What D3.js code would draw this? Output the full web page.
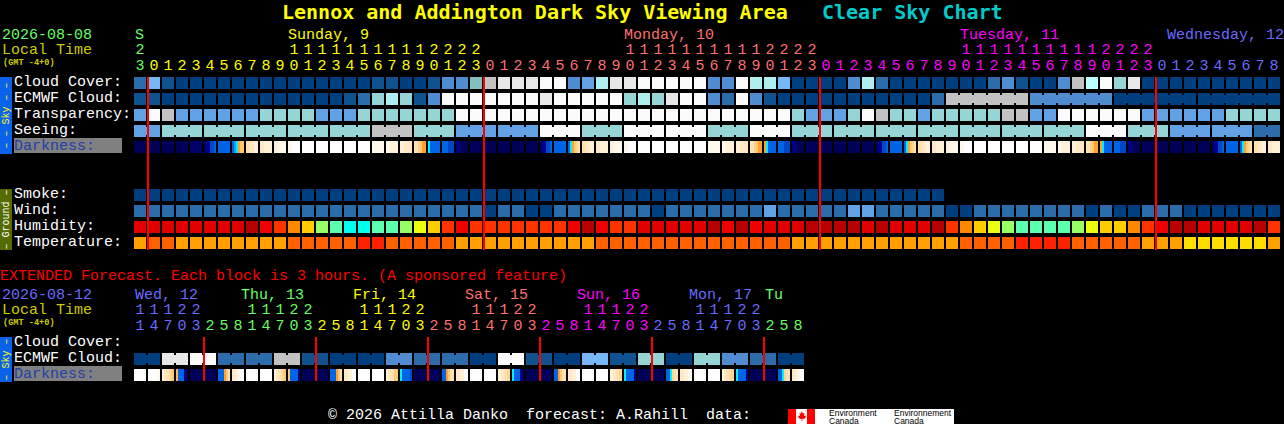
<!DOCTYPE html>
<html>
<head>
<meta charset="utf-8">
<style>
body { margin: 0; background: #000; overflow: hidden; }
svg { display: block; }
text { font-family: "Liberation Mono", monospace; font-size: 15px; fill: #fff; white-space: pre; }
.title { font-family: "DejaVu Sans Mono", monospace; font-size: 20px; font-weight: bold; }
.small { font-size: 8.6px; font-weight: bold; }
.side { font-size: 10px; }
.logo { font-family: "Liberation Sans", sans-serif; font-size: 8.5px; fill: #000; }
</style>
<script src="https://cdn.jsdelivr.net/npm/d3@7"></script>
</head>
<body>
<svg width="1284" height="424"></svg>
<script>
// **** Chart values ****

var hours = [23,0,1,2,3,4,5,6,7,8,9,10,11,12,13,14,15,16,17,18,19,20,21,22,23,
  0,1,2,3,4,5,6,7,8,9,10,11,12,13,14,15,16,17,18,19,20,21,22,23,
  0,1,2,3,4,5,6,7,8,9,10,11,12,13,14,15,16,17,18,19,20,21,22,23,
  0,1,2,3,4,5,6,7,8];

var extHours = [11,14,17,20,23, 2,5,8,11,14,17,20,23, 2,5,8,11,14,17,20,23,
  2,5,8,11,14,17,20,23, 2,5,8,11,14,17,20,23, 2,5,8,11,14,17,20,23, 2,5,8];

var dayNames = ["S", "Sunday, 9", "Monday, 10", "Tuesday, 11", "Wednesday, 12"];
var dayLabelCols = [0.07, 11, 35, 59, 73.79];
var extDayNames = ["Wed, 12", "Thu, 13", "Fri, 14", "Sat, 15", "Sun, 16", "Mon, 17", "Tu"];
var extDayLabelCols = [0.07, 7.64, 15.64, 23.64, 31.64, 39.64, 45.07];

var rowNames = ["Cloud Cover:", "ECMWF Cloud:", "Transparency:", "Seeing:", "Darkness:", "-", "--",
  "Smoke:", "Wind:", "Humidity:", "Temperature:"];
var extRowNames = ["Cloud Cover:", "ECMWF Cloud:", "Darkness:"];

// sky levels, 0 is the darkest blue and 10 is white
var cloudCover = [2,5,1,0,0,0,0,0,0,0,0,0,0,0,0,0,0,1,1,0,0,1,3,3,12,8,9,9,9,10,10,3,4,7,9,9,10,10,10,10,10,
  3,3,10,7,7,5,0,0,0,0,3,7,2,0,0,0,0,0,0,0,2,3,1,0,0,3,8,11,10,6,9,0,0,0,0,0,0,0,0,0,0];
var ecmwfCloud = [1,1,0,0,0,0,0,0,0,0,0,0,0,0,0,1,2,6,7,6,1,3,10,10,10,10,10,10,10,9,10,10,10,10,10,6,7,6,9,10,10,
  3,2,10,3,1,0,0,0,0,0,0,0,0,0,0,0,2,8,3,0,0];
var ecmwfSpans = [1,1,1,1,1,1,1,1,1,1,1,1,1,1,1,1,1,1,1,1,1,1,1,1,1,1,1,1,1,1,1,1,1,1,1,1,1,1,1,1,1,
  1,1,1,1,1,1,1,1,1,1,1,1,1,1,1,1,1,6,6,6,6];
var transparency = [4,10,8,4,4,4,4,4,4,6,6,6,6,4,4,4,6,6,6,6,6,6,6,10,10,10,10,10,10,10,10,10,10,10,10,10,10,10,10,10,
  10,10,10,10,10,10,10,6,4,4,4,6,10,8,6,6,4,6,6,6,6,6,8,8,4,4,10,10,10,10,10,10,4,4,4,4,4,4,6,6,6,6];
var seeing = [4,6,6,6,6,6,8,6,4,4,10,6,10,10,6,10,6,6,6,6,6,6,6,10,6,4,4,2];
var seeingSpans = [2,3,3,3,3,3,3,3,3,3,3,3,3,3,3,3,3,3,3,3,3,3,3,3,3,3,3,2];

// darkness strips inside each block: 0 night, 3 blue, 5 cyan, 6 orange, 10 daylight
var darkness = [[0],[0],[0],[0],[0.3],[0,1,1,2,2,3],[3],[3,4,5,6,7,7],[8,8,8.5,8.5,9,9],[8.5,9,9],[9,9.5,9.5],[9.5,10,10],
  [10],[10],[10],[10],[10],[9.5],[9.5,9,9],[9,8.5,8.5],[8.2,8,7.5,7,6,6],[5,3,3,3,3,3],[3,3,3,2,2,2],[1,1,0,0,0,0],[0],
  [0],[0],[0],[0],[0,1,1,2,2,3],[3],[3,5,6,7,7.5,8],[8,8,8.5,8.5,9,9],[8.5,9,9],[9,9.5,9.5],[9.5,10,10],
  [10],[10],[10],[10],[10],[9.5],[9.5,9,9],[9,8.5,8.5],[8.2,8,7.5,7,6,6],[6,5,3,3,3,3],[3,3,3,2,2,2],[1,1,0,0,0,0],[0],
  [0],[0],[0],[0],[0,1,1,2,2,3],[3],[3,5,6,7,7.5,8],[8,8,8.5,8.5,9,9],[8.5,9,9],[9,9.5,9.5],[9.5,10,10],
  [10],[10],[10],[10],[10],[9.5],[9.5,9,9],[9,8.5,8.5],[8.2,8,7.5,7,6,6],[6,5,3,3,3,3],[3,3,3,2,2,2],[1,1,0,0,0,0],[0],
  [0],[0],[0],[0],[0,1,1,2,2,3],[3],[3,5,6,7,7.5,8],[8,8,8.5,8.5,9,9],[8.5,9,9]];

var smoke = [0,0,0,0,0,0,0,0,0,0,0,0,0,0,0,0,0,0,0,0,0,0,0,0,0,0,0,0,0,0,0,0,0,0,0,0,0,0,0,0,0,0,0,0,0,0,0,0,0,0,0,0,0,0,0,0,0,0];
var wind = [2,2,2,2,2,2,2,2,2,2,2,2,2,2,2,2,2,2,2,2,2,2,2,2,2,0,2,2,0,0,2,2,2,2,2,2,2,0,2,2,2,2,2,2,2,4,2,2,2,2,2,4,4,
  2,2,2,2,2,0,0,2,2,2,2,2,2,2,2,0,2,0,0,2,2,2,0,0,0,0,0,0,0];

// humidity levels, 0 is the darkest red and 8 is cyan
var humidity = [1,1,1,1,1,1,1,1,0,2,3,4,5,7,8,9,9,8,8,7,6,5,3,2,3,3,3,3,3,3,3,2,0,2,3,3,1,1,1,1,1,0,2,0,2,1,1,1,0,0,0,0,
  1,0,1,1,1,0,3,4,5,6,7,8,8,8,8,7,6,5,5,4,3,2,0,0,1,1,1,1,0,3];
// temperature levels, 0 is yellow and 3 is red
var temperature = [1,2,2,1,1,1,1,1,1,1,1,2,2,2,2,2,3,3,2,2,2,2,2,1,1,1,1,1,1,1,1,1,1,2,2,2,2,2,2,2,2,2,2,2,2,2,2,
  1,1,1,1,1,1,1,1,1,1,1,1,2,2,2,2,3,3,3,3,2,2,2,2,2,1,1,1,0,0,0,0,0,0,1];

var extEcmwf = [0,9,10,2,2,8,1,0,0,3,2,2,0,10,1,0,5,1,6,0,6,3,2,0];
var extSpans = [2,2,2,2,2,2,2,2,2,2,2,2,2,2,2,2,2,2,2,2,2,2,2,2];
var extDarkness = [[10],[10,10,10,9.5],[9,8.5,8,8,7.5,7],[6.5,3,3,3,1,0],[0],[0],[3,3,3,6,7,8],[8.5,9,9.5,10],
  [10],[10],[9,8.5,8,8,7.5,7],[7,3,3,3,3,1],[0],[0],[3,3,3,6,7,8],[8.5,9,10],
  [10],[10],[9,8.5,8,8,7,7],[5,3,3,3,3,2],[0],[0],[3,3,6,7,8,8],[8.5,9,10],
  [10],[10],[9,8.5,8,7.5],[5,3,3,3,1,0],[0],[0],[3,3,6,7,8,8],[8.5,9,10],
  [10],[10],[9,8.5,8,7.5],[5,3,3,3,3,1],[0],[0],[3,3,5,7.5,8,8],[8.5,9,9.5],
  [10],[10],[9,8.5,8,8,7.5,7.5],[5,3,3,3,3,1],[0],[0],[3,3,5,7.5,8,8],[8.5,9,9.5,10]];

// **** Scales ****

var skyColor = d3.scaleOrdinal()
  .domain([0,1,2,3,4,5,6,7,8,9,10,11,12])
  .range(["#003f7f","#105290","#2c6cab","#4f8dd0","#62a2e4","#78b7f7","#96d5d5","#aeeeee","#c2c2c2","#e8e8e8","#fbfbfb","#b8ffff","#80c0c0"]);
var humidityColor = d3.scaleOrdinal()
  .domain([0,1,2,3,4,5,6,7,8,9])
  .range(["#b80000","#e00000","#ee0000","#ff3300","#ff8800","#ffcc00","#eaff10","#99ff66","#5cffaf","#00ffee"]);
var temperatureColor = d3.scaleOrdinal()
  .domain([0,1,2,3])
  .range(["#ffdd00","#ffa000","#ff6000","#ff2200"]);
var darkColor = d3.scaleLinear()
  .domain([0,1,2,3,4,5,6,7,8,9,10])
  .range(["#000058","#000090","#0048c8","#0064e6","#10a0f0","#00f0ff","#ffa030","#ffc870","#ffe0b0","#fff0d8","#ffffff"]);

var dayColors = ["#66ff66","#ffff00","#ff7070","#ff00ff","#6a6aff"];
var extDayColors = ["#6a6aff","#66ff66","#ffff00","#ff7070","#ff00ff","#6a6aff","#66ff66"];

var x = d3.scaleBand().domain(d3.range(hours.length)).range([134, 1280]).paddingInner(2 / 14);
var y = d3.scaleBand().domain(rowNames).range([77, 249]).paddingInner(0.25);
var extX = d3.scaleBand().domain(d3.range(extHours.length)).range([134, 804]).paddingInner(2 / 14);
var extY = d3.scaleBand().domain(extRowNames).range([337, 381]).paddingInner(0.25);

var svg = d3.select("svg");

// **** Functions ****

// one block per column
function drawRow(xs, top, values, color) {
  svg.append("g").selectAll("rect")
    .data(values)
    .enter()
    .append("rect")
    .attr("x", function(d, i) { return xs(i); })
    .attr("y", top)
    .attr("width", xs.bandwidth())
    .attr("height", 12)
    .attr("shape-rendering", "crispEdges")
    .style("fill", function(d) { return color(d); });
}

// several columns joined to one block, with a notch at the joins
function drawSpans(xs, top, values, spans, color) {
  var g = svg.append("g");
  var col = 0;
  values.forEach(function(v, k) {
    for (var i = 0; i < spans[k]; i++) {
      g.append("rect")
        .attr("x", xs(col + i))
        .attr("y", top)
        .attr("width", xs.bandwidth())
        .attr("height", 12)
        .attr("shape-rendering", "crispEdges")
        .style("fill", color(v));
      if (i < spans[k] - 1) {
        g.append("rect")
          .attr("x", xs(col + i) + xs.bandwidth())
          .attr("y", top + 2)
          .attr("width", xs.step() - xs.bandwidth())
          .attr("height", 8)
          .attr("shape-rendering", "crispEdges")
          .style("fill", color(v));
      }
    }
    col += spans[k];
  });
}

// vertical strips inside each block
function drawDark(xs, top, cells) {
  var cols = svg.append("g").selectAll("g")
    .data(cells)
    .enter()
    .append("g")
    .attr("transform", function(d, i) { return "translate(" + xs(i) + "," + top + ")"; });
  cols.selectAll("rect")
    .data(function(d) { return d; })
    .enter()
    .append("rect")
    .attr("x", function(d, i, n) { return i * xs.bandwidth() / n.length; })
    .attr("width", function(d, i, n) { return xs.bandwidth() / n.length; })
    .attr("height", 12)
    .attr("shape-rendering", "crispEdges")
    .style("fill", function(d) { return darkColor(d); });
}

function label(str, px, py, fill, cls) {
  return svg.append("text")
    .attr("x", px)
    .attr("y", py)
    .attr("class", cls || null)
    .style("fill", fill)
    .text(str);
}

function sideBar(top, bottom, fill, textFill, str) {
  svg.append("rect")
    .attr("x", 0).attr("y", top)
    .attr("width", 12).attr("height", bottom - top)
    .attr("shape-rendering", "crispEdges")
    .style("fill", fill);
  svg.append("text")
    .attr("class", "side")
    .attr("text-anchor", "middle")
    .attr("transform", "translate(9," + (top + bottom) / 2 + ") rotate(-90)")
    .style("fill", textFill)
    .text(str);
}

// tens and ones of the hour, coloured by day
function hourRows(xs, values, colors, tensY, onesY) {
  var day = 0;
  values.forEach(function(h, i) {
    if (i > 0 && h < values[i - 1]) day++;
    var cx = xs(i) + xs.bandwidth() / 2;
    if (h >= 10) {
      label(Math.floor(h / 10), cx, tensY, colors[day]).attr("text-anchor", "middle");
    }
    label(h % 10, cx, onesY, colors[day]).attr("text-anchor", "middle");
  });
}

function midnightLines(xs, values, top, bottom) {
  values.forEach(function(h, i) {
    if (i > 0 && h < values[i - 1]) {
      svg.append("rect")
        .attr("x", xs(i) - 1).attr("y", top)
        .attr("width", 2).attr("height", bottom - top)
        .attr("shape-rendering", "crispEdges")
        .style("fill", "#ff0000");
    }
  });
}

// **** Title and headers ****

label("Lennox and Addington Dark Sky Viewing Area", 282, 19, "#ffff00", "title");
label("Clear Sky Chart", 822, 19, "#00cccc", "title");

label("2026-08-08", 2, 39, "#66ff66");
label("Local Time", 2, 54, "#cccc00");
label("(GMT -4+0)", 3, 65, "#cccc00", "small");
dayNames.forEach(function(d, i) {
  label(d, x(0) + dayLabelCols[i] * x.step(), 39, dayColors[i]);
});
hourRows(x, hours, dayColors, 54, 70);

// **** Forecast blocks ****

sideBar(77, 154, "#0a62ea", "#ffff00", "\u2013 \u2013 Sky \u2013 \u2013");
sideBar(189, 250, "#556b00", "#ffffff", "\u2013 Ground \u2013");

svg.append("rect")
  .attr("x", 14).attr("y", 138)
  .attr("width", 108).attr("height", 15)
  .style("fill", "#808080");

rowNames.forEach(function(name) {
  if (name[0] == "-") return;
  label(name, 14, y(name) + 9, name == "Darkness:" ? "#1f3fa8" : "#ffffff");
});

drawRow(x, y("Cloud Cover:"), cloudCover, skyColor);
drawSpans(x, y("ECMWF Cloud:"), ecmwfCloud, ecmwfSpans, skyColor);
drawRow(x, y("Transparency:"), transparency, skyColor);
drawSpans(x, y("Seeing:"), seeing, seeingSpans, skyColor);
drawDark(x, y("Darkness:"), darkness);
drawRow(x, y("Smoke:"), smoke, skyColor);
drawRow(x, y("Wind:"), wind, skyColor);
drawRow(x, y("Humidity:"), humidity, humidityColor);
drawRow(x, y("Temperature:"), temperature, temperatureColor);
midnightLines(x, hours, 77, 250);

// **** Extended forecast ****

label("EXTENDED Forecast. Each block is 3 hours. (A sponsored feature)", 0, 280, "#ff0000");
label("2026-08-12", 2, 299, "#6a6aff");
label("Local Time", 2, 314, "#cccc00");
label("(GMT -4+0)", 3, 325, "#cccc00", "small");
extDayNames.forEach(function(d, i) {
  label(d, extX(0) + extDayLabelCols[i] * extX.step(), 299, extDayColors[i]);
});
hourRows(extX, extHours, extDayColors, 314, 330);

sideBar(337, 382, "#0a62ea", "#ffff00", "\u2013 Sky \u2013");
svg.append("rect")
  .attr("x", 14).attr("y", 366)
  .attr("width", 108).attr("height", 15)
  .style("fill", "#808080");
extRowNames.forEach(function(name) {
  label(name, 14, extY(name) + 9, name == "Darkness:" ? "#1f3fa8" : "#ffffff");
});

drawSpans(extX, extY("ECMWF Cloud:"), extEcmwf, extSpans, skyColor);
drawDark(extX, extY("Darkness:"), extDarkness);
midnightLines(extX, extHours, 337, 381);

// **** Footer and logo ****

label("\u00a9 2026 Attilla Danko  forecast: A.Rahill  data:", 328, 419, "#ffffff");

svg.append("rect").attr("x", 788).attr("y", 409).attr("width", 166).attr("height", 15).style("fill", "#fff");
svg.append("rect").attr("x", 788).attr("y", 409).attr("width", 8).attr("height", 15).style("fill", "#ff0000");
svg.append("rect").attr("x", 807).attr("y", 409).attr("width", 8).attr("height", 15).style("fill", "#ff0000");
svg.append("path")
  .attr("d", "M801.5,411l1.5,2.5 1.5,-.5 -.5,3 1.5,-.5 .5,1.5 -2,2 -1.7,-.3 .2,2.3 -1,0 .2,-2.3 -1.7,.3 -2,-2 .5,-1.5 1.5,.5 -.5,-3 1.5,.5z")
  .style("fill", "#ff0000");
[829, 894].forEach(function(px, i) {
  label(i == 0 ? "Environment" : "Environnement", px, 415.5, "#000", "logo");
  label("Canada", px, 423.5, "#000", "logo");
});
</script>
</body>
</html>
